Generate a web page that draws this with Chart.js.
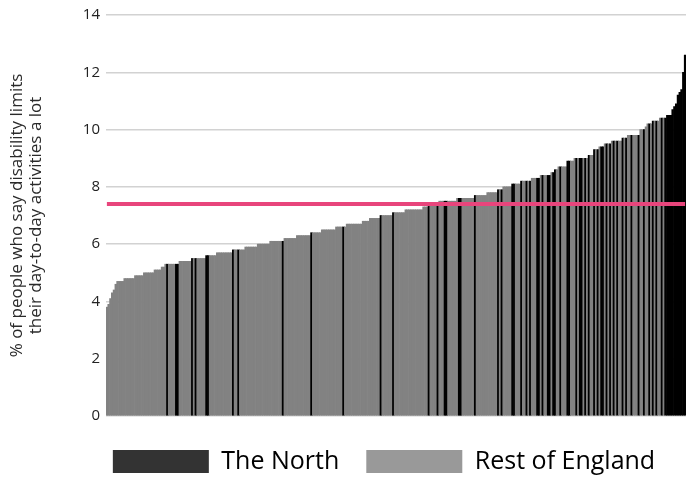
<!DOCTYPE html>
<html>
<head>
<meta charset="utf-8">
<script src="https://cdn.jsdelivr.net/npm/chart.js@4"></script>
<style>
  html, body { margin: 0; padding: 0; background: #fff; }
  #wrap { width: 686px; height: 477px; position: relative; }
</style>
</head>
<body>
<div id="wrap"><canvas id="disabilityChart"></canvas></div>
<script>
// share of people whose disability limits day-to-day activities a lot, one bar per local authority (sorted)
const values = [
  3.8, 3.9, 4.1, 4.3, 4.4, 4.6,
  4.7, 4.7, 4.7, 4.7,
  4.8, 4.8, 4.8, 4.8, 4.8, 4.8,
  4.9, 4.9, 4.9, 4.9, 4.9,
  5.0, 5.0, 5.0, 5.0, 5.0, 5.0,
  5.1, 5.1, 5.1, 5.1,
  5.2, 5.2,
  5.3, 5.3, 5.3, 5.3, 5.3, 5.3, 5.3, 5.3,
  5.4, 5.4, 5.4, 5.4, 5.4, 5.4, 5.4,
  5.5, 5.5, 5.5, 5.5, 5.5, 5.5, 5.5, 5.5,
  5.6, 5.6, 5.6, 5.6, 5.6, 5.6,
  5.7, 5.7, 5.7, 5.7, 5.7, 5.7, 5.7, 5.7, 5.7,
  5.8, 5.8, 5.8, 5.8, 5.8, 5.8, 5.8,
  5.9, 5.9, 5.9, 5.9, 5.9, 5.9, 5.9,
  6.0, 6.0, 6.0, 6.0, 6.0, 6.0, 6.0,
  6.1, 6.1, 6.1, 6.1, 6.1, 6.1, 6.1, 6.1,
  6.2, 6.2, 6.2, 6.2, 6.2, 6.2, 6.2,
  6.3, 6.3, 6.3, 6.3, 6.3, 6.3, 6.3, 6.3,
  6.4, 6.4, 6.4, 6.4, 6.4, 6.4,
  6.5, 6.5, 6.5, 6.5, 6.5, 6.5, 6.5, 6.5,
  6.6, 6.6, 6.6, 6.6, 6.6, 6.6,
  6.7, 6.7, 6.7, 6.7, 6.7, 6.7, 6.7, 6.7, 6.7,
  6.8, 6.8, 6.8, 6.8,
  6.9, 6.9, 6.9, 6.9, 6.9, 6.9,
  7.0, 7.0, 7.0, 7.0, 7.0, 7.0, 7.0,
  7.1, 7.1, 7.1, 7.1, 7.1, 7.1, 7.1,
  7.2, 7.2, 7.2, 7.2, 7.2, 7.2, 7.2, 7.2, 7.2, 7.2,
  7.3, 7.3, 7.3,
  7.4, 7.4, 7.4, 7.4, 7.4, 7.4,
  7.5, 7.5, 7.5, 7.5, 7.5, 7.5, 7.5, 7.5, 7.5, 7.5,
  7.6, 7.6, 7.6, 7.6, 7.6, 7.6, 7.6, 7.6, 7.6, 7.6,
  7.7, 7.7, 7.7, 7.7, 7.7, 7.7, 7.7,
  7.8, 7.8, 7.8, 7.8, 7.8, 7.8,
  7.9, 7.9, 7.9,
  8.0, 8.0, 8.0, 8.0, 8.0,
  8.1, 8.1, 8.1, 8.1, 8.1,
  8.2, 8.2, 8.2, 8.2, 8.2, 8.2,
  8.3, 8.3, 8.3, 8.3, 8.3,
  8.4, 8.4, 8.4, 8.4, 8.4, 8.4,
  8.5, 8.5,
  8.6, 8.6,
  8.7, 8.7, 8.7, 8.7, 8.7,
  8.9, 8.9, 8.9, 8.9,
  9.0, 9.0, 9.0, 9.0, 9.0, 9.0, 9.0, 9.0,
  9.1, 9.1, 9.1,
  9.3, 9.3, 9.3,
  9.4, 9.4, 9.4,
  9.5, 9.5, 9.5, 9.5,
  9.6, 9.6, 9.6, 9.6, 9.6, 9.6,
  9.7, 9.7, 9.7,
  9.8, 9.8, 9.8, 9.8, 9.8, 9.8, 9.8,
  10.0, 10.0, 10.0,
  10.1,
  10.2, 10.2, 10.2,
  10.3, 10.3, 10.3, 10.3,
  10.4, 10.4, 10.4, 10.4,
  10.5, 10.5, 10.5,
  10.7, 10.8, 10.9, 11.2, 11.3, 11.4, 12.0, 12.6
];

// positions (in the sorted order) of the authorities that are in the North
const northBars = [
  34, 39, 40, 48, 50, 56, 57, 71, 74, 99,
  115, 133, 154, 161, 181, 186, 190, 191, 198, 199,
  207, 220, 222, 228, 229, 233, 236, 238, 242, 243,
  245, 248, 249, 251, 252, 255, 259, 260, 264, 266,
  267, 269, 271, 274, 276, 278, 279, 281, 283, 285,
  287, 290, 292, 295, 299, 302, 305, 307, 309, 312,
  314, 315, 316, 317, 318, 319, 320, 321, 322, 323, 324, 325
];

const englandAverage = 7.4;
const yTicks = [0, 2, 4, 6, 8, 10, 12, 14];
const seriesNames = ["The North", "Rest of England"];

const labels = values.map((v, i) => String(i + 1));
const barColors = values.map((v, i) => northBars.includes(i) ? "#000000" : "#828282");
const legendColors = ["#333333", "#999999"];

// nudge the legend to the right, like the original
const legendShift = {
  id: "legendShift",
  afterLayout(chart) {
    chart.legend.left += 41;
    chart.legend.right += 41;
  },
};

const chart = new Chart(document.getElementById("disabilityChart"), {
  type: "bar",
  data: {
    labels: labels,
    datasets: [
      {
        type: "line",
        label: "England average",
        data: labels.map(() => englandAverage),
        borderColor: "#e8457c",
        borderWidth: 4,
        pointRadius: 0,
        fill: false,
        order: 0,
      },
      {
        label: "Local authorities",
        data: values,
        backgroundColor: barColors,
        borderWidth: 0,
        barPercentage: 1.0,
        categoryPercentage: 1.0,
        order: 1,
      },
    ],
  },
  plugins: [legendShift],
  options: {
    responsive: true,
    maintainAspectRatio: false,
    animation: false,
    layout: { padding: { top: 9, right: 0, left: 0, bottom: -7 } },
    scales: {
      x: {
        grid: { display: false },
        border: { display: false },
        ticks: { display: false },
        afterFit: (scale) => { scale.height = 6; },
      },
      y: {
        min: 0,
        max: 14,
        z: 1, // grid lines sit on top of the bars
        afterBuildTicks: (scale) => { scale.ticks = yTicks.map(v => ({ value: v })); },
        afterFit: (scale) => { scale.width = 106; },
        border: { display: false },
        grid: {
          color: "#d2d2d2",
          lineWidth: 1.5,
          drawTicks: false,
        },
        ticks: {
          color: "#222222",
          padding: 6,
          font: { family: "Open Sans", size: 15 },
        },
        title: {
          display: true,
          text: ["% of people who say disability limits", "their day-to-day activities a lot"],
          color: "#2a2a2a",
          font: { family: "Open Sans", size: 17, lineHeight: 1.12 },
          padding: { top: 8, bottom: 0 },
        },
      },
    },
    plugins: {
      tooltip: { enabled: false },
      legend: {
        position: "bottom",
        labels: {
          boxWidth: 96,
          boxHeight: 23,
          padding: 27,
          color: "#222222",
          font: { family: "Open Sans", size: 25 },
          generateLabels: () => seriesNames.map((name, i) => ({
            text: name,
            fillStyle: legendColors[i],
            strokeStyle: legendColors[i],
            lineWidth: 0,
            hidden: false,
            datasetIndex: i,
          })),
        },
      },
    },
  },
});
</script>
</body>
</html>
